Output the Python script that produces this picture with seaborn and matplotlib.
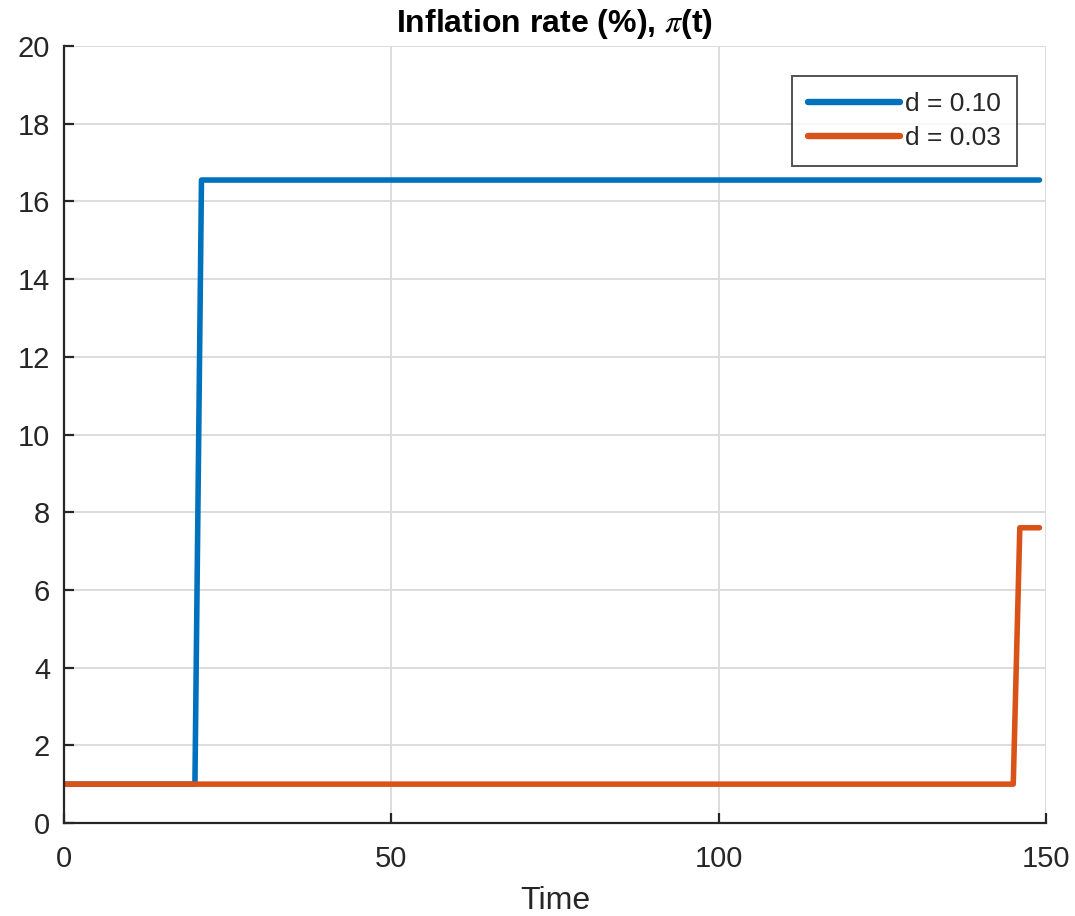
import matplotlib
matplotlib.use("Agg")
import matplotlib.pyplot as plt
import seaborn as sns
import pandas as pd

# Breakpoints of the simulated inflation paths (time, percent)
time_fast = [0, 20, 21, 149]
infl_fast = [1.0, 1.0, 16.55, 16.55]
time_slow = [0, 145, 146, 149]
infl_slow = [1.0, 1.0, 7.6, 7.6]
labels = ["d = 0.10", "d = 0.03"]
colors = ["#0072BD", "#D95319"]
x_ticks = [0, 50, 100, 150]
y_ticks = [0, 2, 4, 6, 8, 10, 12, 14, 16, 18, 20]

sns.set_theme(style="white")
plt.rcParams["font.family"] = ["Liberation Sans", "DejaVu Sans"]
plt.rcParams["mathtext.fontset"] = "stix"

df = pd.concat([
    pd.DataFrame({"t": time_fast, "pi": infl_fast, "case": labels[0]}),
    pd.DataFrame({"t": time_slow, "pi": infl_slow, "case": labels[1]}),
])

fig = plt.figure(figsize=(10.75, 9.16), dpi=100)
ax = fig.add_axes([64 / 1075, 93 / 916, 982 / 1075, 777 / 916])

sns.lineplot(data=df, x="t", y="pi", hue="case", palette=colors,
             linewidth=4.0, ax=ax, sort=False, estimator=None)

ax.set_xlim(0, 150)
ax.set_ylim(0, 20)
ax.set_xticks(x_ticks)
ax.set_yticks(y_ticks)
ax.grid(True, color="#dcdcdc", linewidth=1.4)
ax.set_axisbelow(True)
for side in ["top", "right"]:
    ax.spines[side].set_visible(False)
for side in ["left", "bottom"]:
    ax.spines[side].set_color("#262626")
    ax.spines[side].set_linewidth(1.6)
ax.tick_params(direction="in", length=7, width=1.6, color="#262626",
               labelsize=21, labelcolor="#262626", pad=10,
               top=False, right=False, left=True, bottom=True)
ax.tick_params(axis="x", pad=15.5)

ax.set_xlabel("Time", fontsize=23, color="#262626", labelpad=10)
ax.set_ylabel("")
ax.set_title(r"Inflation rate (%), $\pi$(t)", fontsize=23, fontweight="bold",
             color="black", pad=10)

leg = ax.legend(loc="upper right", bbox_to_anchor=(1017 / 982 - 64 / 982, (823 - 76) / 777),
                fontsize=19, frameon=True, fancybox=False, handlelength=3.5,
                handletextpad=0.2, borderpad=0.6, labelspacing=0.4,
                borderaxespad=0)
leg.get_frame().set_edgecolor("#262626")
leg.get_frame().set_linewidth(1.4)
for line in leg.get_lines():
    line.set_linewidth(4.6)

fig.savefig("out.png", dpi=100)
